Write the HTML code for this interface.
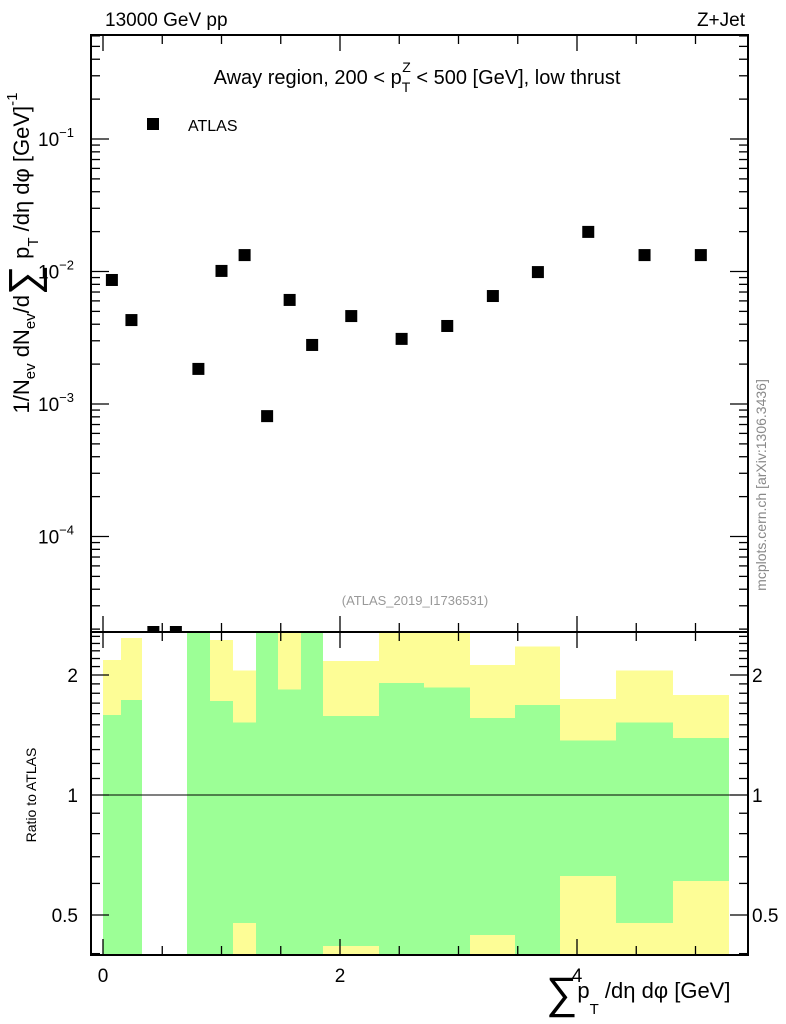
<!DOCTYPE html>
<html><head><meta charset="utf-8"><style>
body{margin:0;background:#fff;}
svg{display:block;font-family:"Liberation Sans","DejaVu Sans",sans-serif;}
</style></head><body>
<svg id="c" width="786" height="1024" viewBox="0 0 786 1024" xmlns="http://www.w3.org/2000/svg">
<defs>
<clipPath id="cm"><rect x="91" y="35" width="657" height="597"/></clipPath>
<clipPath id="cr"><rect x="91" y="632" width="657" height="323"/></clipPath>
</defs>
<g id="ratio" clip-path="url(#cr)" shape-rendering="crispEdges"></g>
<g id="main" clip-path="url(#cm)"></g>
<g id="axes"></g>
<text x="105" y="26" font-size="19">13000 GeV pp</text>
<text x="745" y="26" font-size="19" text-anchor="end">Z+Jet</text>
<text x="417" y="84" font-size="20" text-anchor="middle">Away region, 200 &lt; p<tspan font-size="14" dy="8">T</tspan><tspan font-size="14" dx="-8" dy="-20">Z</tspan><tspan dy="12"> &lt; 500 [GeV], low thrust</tspan></text>
<rect x="147" y="118" width="12" height="12" fill="#000"/>
<text x="188" y="131" font-size="16">ATLAS</text>
<text x="415" y="605" font-size="13" fill="#999" text-anchor="middle">(ATLAS_2019_I1736531)</text>
<text transform="translate(766,485) rotate(-90)" font-size="14" fill="#888" text-anchor="middle">mcplots.cern.ch [arXiv:1306.3436]</text>
<text transform="translate(36,795) rotate(-90)" font-size="14" text-anchor="middle">Ratio to ATLAS</text>
<text transform="translate(29,253) rotate(-90)" font-size="22" text-anchor="middle">1/N<tspan font-size="15" dy="6">ev</tspan><tspan dy="-6"> dN</tspan><tspan font-size="15" dy="6">ev</tspan><tspan dy="-6">/d</tspan><tspan font-size="42" dy="9">∑</tspan><tspan dy="-9"> p</tspan><tspan font-size="15" dy="9">T</tspan><tspan dy="-9"> /dη dφ  [GeV]</tspan><tspan font-size="15" dy="-12">-1</tspan></text>
<text x="546" y="1008" font-size="22"><tspan font-size="44">∑</tspan><tspan dy="-10">p</tspan><tspan font-size="15" dy="16">T</tspan><tspan dy="-16"> /dη dφ [GeV]</tspan></text>
</svg>
<script>
const binEdges=[0,0.15,0.33,0.52,0.71,0.9,1.1,1.29,1.48,1.67,1.86,2.33,2.71,3.1,3.48,3.86,4.33,4.81,5.28];
const dataValues=[0.00863,0.0043,0.00001,0.00001,0.00184,0.0101,0.0133,0.00081,0.0061,0.00279,0.00461,0.0031,0.00388,0.00653,0.0099,0.0199,0.0133,0.0133];
const yellowUp=[2.18,2.48,null,null,3,2.45,2.05,3,3,3,2.17,3,3,2.12,2.36,1.74,2.05,1.78];
const greenUp=[1.588,1.73,null,null,3,1.72,1.52,3,1.84,3,1.58,1.91,1.86,1.56,1.68,1.37,1.52,1.39];
const greenLo=[0.3,0.3,null,null,0.3,0.3,0.477,0.3,0.3,0.3,0.418,0.3,0.3,0.445,0.3,0.626,0.477,0.608];
const yellowLo=[0.415,0.3,null,null,0.3,0.3,0.3,0.3,0.3,0.3,0.3,0.3,0.3,0.3,0.3,0.3,0.3,0.3];
const xTicks=[0,2,4];
const mainYTicks=[-1,-2,-3,-4];
const ratioTicks=[0.5,1,2];
const NS='http://www.w3.org/2000/svg';
const X=v=>103+v*118.5;
const YM=v=>139-(Math.log10(v)+1)*132.5;
const YR=v=>795-Math.log10(v)*398.6;
function mk(tag,at,parent){const e=document.createElementNS(NS,tag);for(const k in at)e.setAttribute(k,at[k]);parent.appendChild(e);return e;}
const gR=document.getElementById('ratio'),gM=document.getElementById('main'),gA=document.getElementById('axes');
for(let i=0;i<yellowUp.length;i++){
 if(yellowUp[i]==null)continue;
 const x0=Math.round(X(binEdges[i])),x1=Math.round(X(binEdges[i+1]));
 const y=mk('rect',{x:x0,y:YR(yellowUp[i]),width:x1-x0,height:YR(yellowLo[i])-YR(yellowUp[i]),fill:'#fdfd96'},gR);
 
 
 const g=mk('rect',{x:x0,y:YR(greenUp[i]),width:x1-x0,height:YR(greenLo[i])-YR(greenUp[i]),fill:'#9cff96'},gR);
 
 
}
const l1=mk('line',{x1:91,x2:748,y1:YR(1),y2:YR(1),stroke:'#000','stroke-width':1.3},gR);


for(let i=0;i<dataValues.length;i++){
 const cx=X((binEdges[i]+binEdges[i+1])/2);
 let cy=YM(dataValues[i]); if(cy>632)cy=632;
 const p=mk('rect',{x:cx-6,y:cy-6,width:12,height:12,fill:'#000'},gM);
 
 
}
for(const r of [[91,35,657,597],[91,632,657,323]]){
 const f=mk('rect',{x:r[0],y:r[1],width:r[2],height:r[3],fill:'none',stroke:'#000','stroke-width':2},gA);
 
 
}
function tick(x1,y1,x2,y2){mk('line',{x1:x1,y1:y1,x2:x2,y2:y2,stroke:'#000','stroke-width':1.3},gA);}
for(let k=0;k<=10;k++){
 const v=k*0.5,x=X(v),L=(k%4===0)?16:9;
 tick(x,632,x,632-L);tick(x,35,x,35+L);tick(x,955,x,955-L);tick(x,632,x,632+L);
}
for(const v of xTicks){const t=mk('text',{x:X(v),y:982,'font-size':19,'text-anchor':'middle'},gA);t.textContent=v;
 
 }
for(let d=-5;d<0;d++){for(let m=1;m<10;m++){const y=YM(m*Math.pow(10,d));if(y<35||y>632)continue;const L=m==1?18:9;tick(91,y,91+L,y);tick(748,y,748-L,y);}}
for(const e of mainYTicks){const t=mk('text',{x:38,y:YM(Math.pow(10,e))+7,'font-size':19},gA);t.textContent='10';
 const s=mk('tspan',{'font-size':13,dy:-9},t);s.textContent='−'+(-e);
 
 }
for(let k=4;k<=25;k++){const v=k/10;const y=YR(v);if(y<632||y>955)continue;const maj=(k===5||k===10||k===20);const L=maj?18:9;tick(91,y,91+L,y);tick(748,y,748-L,y);}
for(const v of ratioTicks){const y=YR(v)+7;
 const a=mk('text',{x:78,y:y,'font-size':19,'text-anchor':'end'},gA);a.textContent=v;
 
 
 const b=mk('text',{x:752,y:y,'font-size':19},gA);b.textContent=v;
 
 }
</script>
</body></html>
